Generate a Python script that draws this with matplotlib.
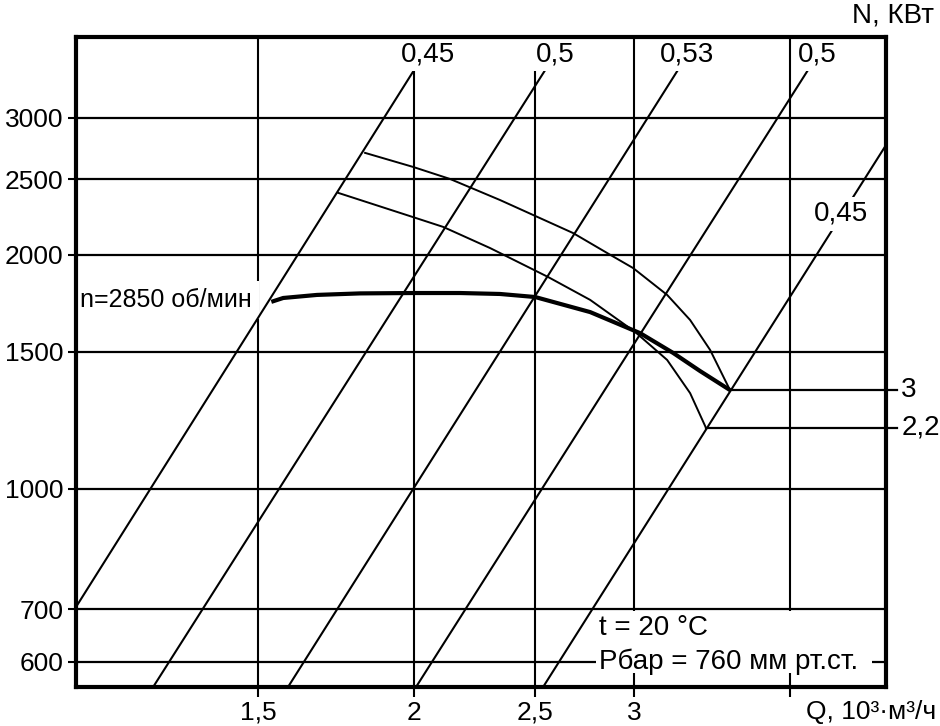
import matplotlib
matplotlib.use('Agg')
import matplotlib.pyplot as plt
from matplotlib.patches import Rectangle

plt.rcParams['font.family'] = ['Liberation Sans', 'DejaVu Sans']

# axis ticks (Q in 10^3 m3/h, N)
q_ticks = [1.5, 2, 2.5, 3, 4]
q_tick_labels = ['1,5', '2', '2,5', '3', '']
n_ticks = [600, 700, 1000, 1500, 2000, 2500, 3000]

# working curve n=2850 rpm
q_main = [1.537, 1.571, 1.672, 1.810, 1.996, 2.177, 2.343, 2.500, 2.767, 3.034, 3.224, 3.388, 3.581]
n_main = [1740, 1760, 1776, 1784, 1786, 1786, 1781, 1765, 1688, 1586, 1496, 1418, 1340]

# upper and lower thin curves
q_upper = [1.827, 1.996, 2.137, 2.343, 2.681, 2.871, 2.995, 3.189, 3.327, 3.452, 3.581]
n_upper = [2704, 2594, 2503, 2352, 2133, 2000, 1923, 1776, 1649, 1509, 1340]
q_lower = [1.739, 1.996, 2.110, 2.301, 2.560, 2.767, 3.007, 3.189, 3.327, 3.426]
n_lower = [2402, 2236, 2172, 2040, 1873, 1750, 1591, 1465, 1328, 1198]

# efficiency lines
eff_labels = ['0,45', '0,5', '0,53', '0,5', '0,45']
eff_q0 = [1.072, 1.236, 1.585, 2.007, 2.537]
eff_n0 = [705, 556.5, 556.5, 556.5, 556.5]
eff_q1 = [2.0, 2.547, 3.253, 4.135, 4.775]
eff_n1 = [3456, 3456, 3456, 3456, 2768]
eff_label_q = [2.052, 2.594, 3.308, 4.205, 4.395]
eff_label_n = [3620, 3620, 3620, 3620, 2257]

# motor power marks
motor_labels = ['3', '2,2']
motor_q = [3.581, 3.426]
motor_n = [1340, 1198]

fig = plt.figure(figsize=(9.4, 7.26), dpi=100)
ax = fig.add_axes([0.0809, 0.0537, 0.8617, 0.8953])
ax.set_xscale('log')
ax.set_yscale('log')
ax.set_xlim(1.0722, 4.7748)
ax.set_ylim(556.5, 3810)

ax.set_xticks(q_ticks)
ax.set_xticklabels(q_tick_labels)
ax.set_yticks(n_ticks)
ax.set_yticklabels([str(v) for v in n_ticks])
ax.minorticks_off()
ax.tick_params(axis='x', direction='out', length=7, width=1.5, labelsize=19, pad=3)
ax.tick_params(axis='y', direction='out', length=6, width=1.5, labelsize=19, pad=3)
for s in ax.spines.values():
    s.set_linewidth(3)
    s.set_zorder(10)

# grid
for v in n_ticks:
    ax.axhline(v, color='black', lw=1.6, zorder=1)
for v in q_ticks:
    ax.axvline(v, color='black', lw=1.5, zorder=1)

# efficiency lines
for i in range(len(eff_labels)):
    ax.plot([eff_q0[i], eff_q1[i]], [eff_n0[i], eff_n1[i]], color='black', lw=1.5, zorder=2)
    ax.text(eff_label_q[i], eff_label_n[i], eff_labels[i], fontsize=20, ha='center', va='center',
            zorder=5, bbox=dict(facecolor='white', edgecolor='none', pad=3))

# curves
ax.plot(q_upper, n_upper, color='black', lw=1.4, zorder=3)
ax.plot(q_lower, n_lower, color='black', lw=1.4, zorder=3)
ax.plot(q_main, n_main, color='black', lw=3, zorder=4, solid_capstyle='butt')

# label sits over the grid but under the diagonal lines
ax.text(1.080, 1750, 'n=2850 об/мин', fontsize=18, ha='left', va='center', zorder=1.5,
        bbox=dict(facecolor='white', edgecolor='none', pad=5))

# motor power lines
for i in range(len(motor_labels)):
    ax.plot([motor_q[i], 4.87], [motor_n[i], motor_n[i]], color='black', lw=1.6, zorder=3, clip_on=False)
    ax.text(4.91, motor_n[i], motor_labels[i], fontsize=20, ha='left', va='center')

# conditions box
ax.add_patch(Rectangle((2.797, 580), 4.653 - 2.797, 697 - 580, facecolor='white', edgecolor='none', zorder=4))
ax.text(2.81, 663, 't = 20 °C', fontsize=20, ha='left', va='center', zorder=5)
ax.text(2.81, 600, 'Pбар = 760 мм рт.ст.', fontsize=20, ha='left', va='center', zorder=5)

fig.text(806 / 940, 1 - 712 / 726, 'Q, 10³·м³/ч', fontsize=19, ha='left', va='center')
fig.text(852 / 940, 1 - 15 / 726, 'N, КВт', fontsize=20, ha='left', va='center')

fig.savefig('out.png', dpi=100)
